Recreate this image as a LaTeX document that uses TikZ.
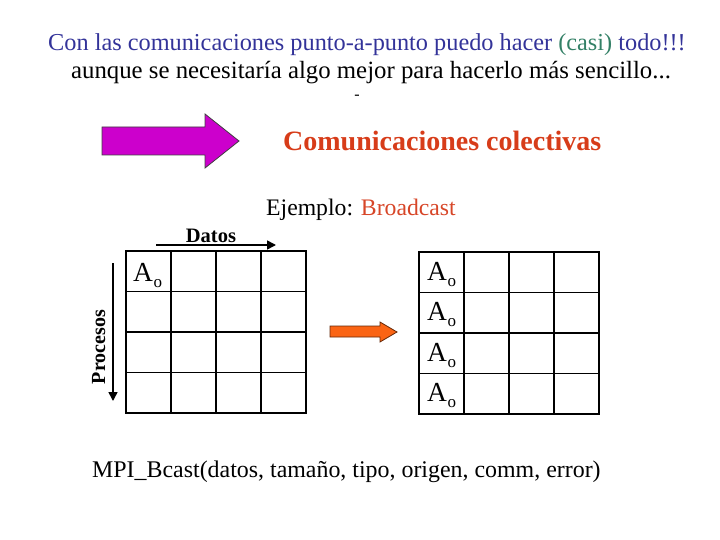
\documentclass[tikz,border=0pt]{standalone}
\usepackage{fontspec}
\setmainfont{Liberation Serif}
\usetikzlibrary{arrows.meta,positioning}
\definecolor{titleblue}{RGB}{51,51,153}
\definecolor{casigreen}{RGB}{51,128,102}
\definecolor{colred}{RGB}{215,60,25}
\definecolor{bcred}{RGB}{215,70,40}
\definecolor{bigmagenta}{RGB}{204,0,204}
\definecolor{smallorange}{RGB}{250,100,20}
\newcommand{\Ao}{A\kern0.5pt\raisebox{-6pt}{\fontsize{17}{17}\selectfont o}}

\begin{document}
\begin{tikzpicture}[x=1pt,y=-1pt,
  txt/.style={inner sep=0pt,font=\fontsize{24.3}{28}\selectfont},
  lbl/.style={inner sep=0pt,font=\bfseries\fontsize{20.5}{22}\selectfont},
  gridline/.style={line width=1.8pt},
  gridframe/.style={line width=2.8pt},
  axis/.style={-{Triangle[length=9pt,width=9pt]},line width=1.6pt},
  elem/.style={inner sep=0pt,anchor=base west,font=\fontsize{27.5}{30}\selectfont}]
\useasboundingbox (0,0) rectangle (720,540);
% titulo
\node[txt,anchor=base,text=titleblue] (tit1) at (367,51) {Con las comunicaciones punto-a-punto puedo hacer \textcolor{casigreen}{(casi)} todo!!!};
\node[txt,anchor=base,font=\fontsize{24.8}{28}\selectfont] (tit2) at (371,79) {aunque se necesitaría algo mejor para hacerlo más sencillo...};
\node[inner sep=0pt,font=\fontsize{16}{16}\selectfont] (dash) at (357,97) {-};
% flecha grande
\draw[fill=bigmagenta,draw=black!75,line width=0.8pt] (102,127) -- (205,127) -- (205,114) -- (239,141) -- (205,168) -- (205,155) -- (102,155) -- cycle;
\node[anchor=base west,inner sep=0pt,text=colred,font=\bfseries\fontsize{28}{30}\selectfont] (colec) at (283,151) {Comunicaciones colectivas};
\node[txt,anchor=base west,font=\fontsize{23.7}{26}\selectfont] (ejem) at (266,215) {Ejemplo: \textcolor{bcred}{Broadcast}};
% matrices 4x4
\foreach \ox/\oy in {126/251,419/252} {
  \foreach \i in {1,2,3} {
    \draw[gridline] (\ox+45*\i,\oy) -- (\ox+45*\i,\oy+162);
    \draw[gridline] (\ox,\oy+40.5*\i) -- (\ox+180,\oy+40.5*\i);
  }
  \draw[gridframe] (\ox,\oy) rectangle (\ox+180,\oy+162);
}
% ejes
\coordinate (d0) at (156,245);
\coordinate (d1) at (276,245);
\coordinate (p0) at (113,263);
\coordinate (p1) at (113,401);
\draw[axis] (d0) -- (d1);
\draw[axis] (p0) -- (p1);
\node[lbl,anchor=base] (datos) at (211,242) {Datos};
\node[lbl,anchor=base,rotate=90,font=\bfseries\fontsize{20}{22}\selectfont] (proc) at (105,347) {Procesos};
% elementos
\node[elem] (ao) at (133,281) {\Ao};
\foreach \r in {0,1,2,3}
  \node[elem] (ao\r) at (427,280+40.5*\r) {\Ao};
% flecha pequena
\draw[fill=smallorange,draw=black!60!smallorange,line width=0.8pt] (330,326) -- (380,326) -- (380,322) -- (397,332) -- (380,342) -- (380,337) -- (330,337) -- cycle;
\node[txt,anchor=base west,font=\fontsize{23.9}{26}\selectfont] (bcast) at (92,477) {MPI\_Bcast(datos, tamaño, tipo, origen, comm, error)};
\end{tikzpicture}
\end{document}
